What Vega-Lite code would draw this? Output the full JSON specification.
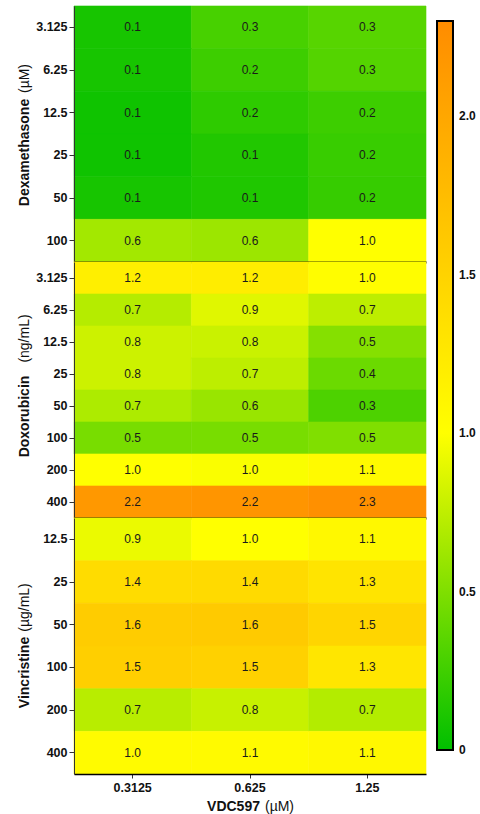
{
  "$schema": "https://vega.github.io/schema/vega-lite/v6.json",
  "padding": {"left": 16, "top": 5, "right": 5, "bottom": 2},
  "background": "white",
  "data": {
    "values": [
      {"drug": "Dexamethasone", "dose": "3.125", "vdc": "0.3125", "value": 0.09},
      {"drug": "Dexamethasone", "dose": "3.125", "vdc": "0.625", "value": 0.28},
      {"drug": "Dexamethasone", "dose": "3.125", "vdc": "1.25", "value": 0.34},
      {"drug": "Dexamethasone", "dose": "6.25", "vdc": "0.3125", "value": 0.09},
      {"drug": "Dexamethasone", "dose": "6.25", "vdc": "0.625", "value": 0.24},
      {"drug": "Dexamethasone", "dose": "6.25", "vdc": "1.25", "value": 0.33},
      {"drug": "Dexamethasone", "dose": "12.5", "vdc": "0.3125", "value": 0.06},
      {"drug": "Dexamethasone", "dose": "12.5", "vdc": "0.625", "value": 0.18},
      {"drug": "Dexamethasone", "dose": "12.5", "vdc": "1.25", "value": 0.24},
      {"drug": "Dexamethasone", "dose": "25", "vdc": "0.3125", "value": 0.06},
      {"drug": "Dexamethasone", "dose": "25", "vdc": "0.625", "value": 0.13},
      {"drug": "Dexamethasone", "dose": "25", "vdc": "1.25", "value": 0.22},
      {"drug": "Dexamethasone", "dose": "50", "vdc": "0.3125", "value": 0.09},
      {"drug": "Dexamethasone", "dose": "50", "vdc": "0.625", "value": 0.12},
      {"drug": "Dexamethasone", "dose": "50", "vdc": "1.25", "value": 0.21},
      {"drug": "Dexamethasone", "dose": "100", "vdc": "0.3125", "value": 0.64},
      {"drug": "Dexamethasone", "dose": "100", "vdc": "0.625", "value": 0.61},
      {"drug": "Dexamethasone", "dose": "100", "vdc": "1.25", "value": 1.0},
      {"drug": "Doxorubicin", "dose": "3.125", "vdc": "0.3125", "value": 1.18},
      {"drug": "Doxorubicin", "dose": "3.125", "vdc": "0.625", "value": 1.2},
      {"drug": "Doxorubicin", "dose": "3.125", "vdc": "1.25", "value": 1.02},
      {"drug": "Doxorubicin", "dose": "6.25", "vdc": "0.3125", "value": 0.71},
      {"drug": "Doxorubicin", "dose": "6.25", "vdc": "0.625", "value": 0.88},
      {"drug": "Doxorubicin", "dose": "6.25", "vdc": "1.25", "value": 0.74},
      {"drug": "Doxorubicin", "dose": "12.5", "vdc": "0.3125", "value": 0.8},
      {"drug": "Doxorubicin", "dose": "12.5", "vdc": "0.625", "value": 0.79},
      {"drug": "Doxorubicin", "dose": "12.5", "vdc": "1.25", "value": 0.52},
      {"drug": "Doxorubicin", "dose": "25", "vdc": "0.3125", "value": 0.8},
      {"drug": "Doxorubicin", "dose": "25", "vdc": "0.625", "value": 0.74},
      {"drug": "Doxorubicin", "dose": "25", "vdc": "1.25", "value": 0.42},
      {"drug": "Doxorubicin", "dose": "50", "vdc": "0.3125", "value": 0.68},
      {"drug": "Doxorubicin", "dose": "50", "vdc": "0.625", "value": 0.6},
      {"drug": "Doxorubicin", "dose": "50", "vdc": "1.25", "value": 0.3},
      {"drug": "Doxorubicin", "dose": "100", "vdc": "0.3125", "value": 0.47},
      {"drug": "Doxorubicin", "dose": "100", "vdc": "0.625", "value": 0.47},
      {"drug": "Doxorubicin", "dose": "100", "vdc": "1.25", "value": 0.5},
      {"drug": "Doxorubicin", "dose": "200", "vdc": "0.3125", "value": 1.0},
      {"drug": "Doxorubicin", "dose": "200", "vdc": "0.625", "value": 0.98},
      {"drug": "Doxorubicin", "dose": "200", "vdc": "1.25", "value": 1.06},
      {"drug": "Doxorubicin", "dose": "400", "vdc": "0.3125", "value": 2.17},
      {"drug": "Doxorubicin", "dose": "400", "vdc": "0.625", "value": 2.2},
      {"drug": "Doxorubicin", "dose": "400", "vdc": "1.25", "value": 2.26},
      {"drug": "Vincristine", "dose": "12.5", "vdc": "0.3125", "value": 0.92},
      {"drug": "Vincristine", "dose": "12.5", "vdc": "0.625", "value": 1.0},
      {"drug": "Vincristine", "dose": "12.5", "vdc": "1.25", "value": 1.08},
      {"drug": "Vincristine", "dose": "25", "vdc": "0.3125", "value": 1.4},
      {"drug": "Vincristine", "dose": "25", "vdc": "0.625", "value": 1.42},
      {"drug": "Vincristine", "dose": "25", "vdc": "1.25", "value": 1.3},
      {"drug": "Vincristine", "dose": "50", "vdc": "0.3125", "value": 1.58},
      {"drug": "Vincristine", "dose": "50", "vdc": "0.625", "value": 1.6},
      {"drug": "Vincristine", "dose": "50", "vdc": "1.25", "value": 1.48},
      {"drug": "Vincristine", "dose": "100", "vdc": "0.3125", "value": 1.54},
      {"drug": "Vincristine", "dose": "100", "vdc": "0.625", "value": 1.52},
      {"drug": "Vincristine", "dose": "100", "vdc": "1.25", "value": 1.28},
      {"drug": "Vincristine", "dose": "200", "vdc": "0.3125", "value": 0.72},
      {"drug": "Vincristine", "dose": "200", "vdc": "0.625", "value": 0.78},
      {"drug": "Vincristine", "dose": "200", "vdc": "1.25", "value": 0.7},
      {"drug": "Vincristine", "dose": "400", "vdc": "0.3125", "value": 1.04},
      {"drug": "Vincristine", "dose": "400", "vdc": "0.625", "value": 1.06},
      {"drug": "Vincristine", "dose": "400", "vdc": "1.25", "value": 1.08}
    ]
  },
  "config": {
    "view": {"stroke": null},
    "font": "Liberation Sans",
    "axis": {
      "grid": false,
      "labelFont": "Liberation Sans",
      "labelFontWeight": "bold",
      "labelFontSize": 12.5,
      "labelColor": "#111",
      "tickColor": "#333",
      "tickSize": 5,
      "labelPadding": 2,
      "domainColor": "#333",
      "titleFont": "Liberation Sans",
      "titleFontSize": 14,
      "titleColor": "#111"
    }
  },
  "spacing": 0,
  "bounds": "flush",
  "resolve": {"scale": {"color": "shared"}, "legend": {"color": "shared"}},
  "vconcat": [
    {
      "width": 352,
      "height": 256,
      "transform": [{"filter": "datum.drug === 'Dexamethasone'"}],
      "layer": [
        {
          "mark": {"type": "rect", "strokeWidth": 0.6, "stroke": {"expr": "scale('color', datum.value)"}},
          "encoding": {
            "x": {"field": "vdc", "type": "nominal", "sort": ["0.3125", "0.625", "1.25"], "axis": {"labels": false, "ticks": false, "title": null, "domainColor": "black", "domainWidth": 2}},
            "y": {"field": "dose", "type": "nominal", "sort": ["3.125", "6.25", "12.5", "25", "50", "100"], "axis": {"title": "Dexamethasone", "titleFontWeight": "bold", "titleX": -46, "titleY": 146, "titleAlign": "center", "titleBaseline": "alphabetic"}},
            "color": {
              "field": "value", "type": "quantitative",
              "scale": {"type": "linear", "domain": [0, 1, 2.3], "range": ["#00bf00", "#ffff00", "#ff8c00"], "interpolate": "rgb"},
              "legend": {"title": null, "orient": "right", "offset": -5, "padding": 15, "direction": "vertical", "gradientLength": 729, "gradientThickness": 16, "gradientStrokeColor": "black", "gradientStrokeWidth": 2, "values": [0, 0.5, 1, 1.5, 2], "labelExpr": "datum.value === 0 ? '0' : format(datum.value, '.1f')", "labelFont": "Liberation Sans", "labelFontWeight": "bold", "labelFontSize": 12, "labelColor": "#111", "labelOffset": 6, "labelOverlap": false, "labelBaseline": "middle", "encode": {"labels": {"update": {"baseline": {"value": "middle"}}}}}
            }
          }
        },
        {
          "mark": {"type": "text", "font": "Liberation Sans", "fontSize": 12, "color": "#1a1a1a"},
          "encoding": {
            "x": {"field": "vdc", "type": "nominal", "sort": ["0.3125", "0.625", "1.25"]},
            "y": {"field": "dose", "type": "nominal", "sort": ["3.125", "6.25", "12.5", "25", "50", "100"], "axis": {"orient": "left", "labels": false, "ticks": false, "domain": false, "title": "(µM)", "titleFontWeight": "normal", "titleX": -46, "titleY": 72, "titleAlign": "center", "titleBaseline": "alphabetic"}},
            "text": {"field": "value", "type": "quantitative", "format": ".1f"}
          }
        }
      ],
      "resolve": {"axis": {"y": "independent"}}
    },
    {
      "width": 352,
      "height": 256,
      "transform": [{"filter": "datum.drug === 'Doxorubicin'"}],
      "layer": [
        {
          "mark": {"type": "rect", "strokeWidth": 0.6, "stroke": {"expr": "scale('color', datum.value)"}},
          "encoding": {
            "x": {"field": "vdc", "type": "nominal", "sort": ["0.3125", "0.625", "1.25"], "axis": {"labels": false, "ticks": false, "title": null, "domainColor": "black", "domainWidth": 2}},
            "y": {"field": "dose", "type": "nominal", "sort": ["3.125", "6.25", "12.5", "25", "50", "100", "200", "400"], "axis": {"title": "Doxorubicin", "titleFontWeight": "bold", "titleX": -46, "titleY": 154, "titleAlign": "center", "titleBaseline": "alphabetic"}},
            "color": {
              "field": "value", "type": "quantitative",
              "scale": {"type": "linear", "domain": [0, 1, 2.3], "range": ["#00bf00", "#ffff00", "#ff8c00"], "interpolate": "rgb"},
              "legend": {"title": null, "orient": "right", "offset": -5, "padding": 15, "direction": "vertical", "gradientLength": 729, "gradientThickness": 16, "gradientStrokeColor": "black", "gradientStrokeWidth": 2, "values": [0, 0.5, 1, 1.5, 2], "labelExpr": "datum.value === 0 ? '0' : format(datum.value, '.1f')", "labelFont": "Liberation Sans", "labelFontWeight": "bold", "labelFontSize": 12, "labelColor": "#111", "labelOffset": 6, "labelOverlap": false, "labelBaseline": "middle", "encode": {"labels": {"update": {"baseline": {"value": "middle"}}}}}
            }
          }
        },
        {
          "mark": {"type": "text", "font": "Liberation Sans", "fontSize": 12, "color": "#1a1a1a"},
          "encoding": {
            "x": {"field": "vdc", "type": "nominal", "sort": ["0.3125", "0.625", "1.25"]},
            "y": {"field": "dose", "type": "nominal", "sort": ["3.125", "6.25", "12.5", "25", "50", "100", "200", "400"], "axis": {"orient": "left", "labels": false, "ticks": false, "domain": false, "title": "(ng/mL)", "titleFontWeight": "normal", "titleX": -46, "titleY": 76, "titleAlign": "center", "titleBaseline": "alphabetic"}},
            "text": {"field": "value", "type": "quantitative", "format": ".1f"}
          }
        }
      ],
      "resolve": {"axis": {"y": "independent"}}
    },
    {
      "width": 352,
      "height": 256,
      "transform": [{"filter": "datum.drug === 'Vincristine'"}],
      "layer": [
        {
          "mark": {"type": "rect", "strokeWidth": 0.6, "stroke": {"expr": "scale('color', datum.value)"}},
          "encoding": {
            "x": {"field": "vdc", "type": "nominal", "sort": ["0.3125", "0.625", "1.25"], "axis": {"labelAngle": 0, "tickSize": 4, "labelPadding": 3, "domainColor": "black", "domainWidth": 1.5, "title": "VDC597", "titleFontWeight": "bold", "titleX": 159, "titleY": 36, "titleAlign": "center", "titleBaseline": "alphabetic"}},
            "y": {"field": "dose", "type": "nominal", "sort": ["12.5", "25", "50", "100", "200", "400"], "axis": {"title": "Vincristine", "titleFontWeight": "bold", "titleX": -46, "titleY": 154, "titleAlign": "center", "titleBaseline": "alphabetic"}},
            "color": {
              "field": "value", "type": "quantitative",
              "scale": {"type": "linear", "domain": [0, 1, 2.3], "range": ["#00bf00", "#ffff00", "#ff8c00"], "interpolate": "rgb"},
              "legend": {"title": null, "orient": "right", "offset": -5, "padding": 15, "direction": "vertical", "gradientLength": 729, "gradientThickness": 16, "gradientStrokeColor": "black", "gradientStrokeWidth": 2, "values": [0, 0.5, 1, 1.5, 2], "labelExpr": "datum.value === 0 ? '0' : format(datum.value, '.1f')", "labelFont": "Liberation Sans", "labelFontWeight": "bold", "labelFontSize": 12, "labelColor": "#111", "labelOffset": 6, "labelOverlap": false, "labelBaseline": "middle", "encode": {"labels": {"update": {"baseline": {"value": "middle"}}}}}
            }
          }
        },
        {
          "mark": {"type": "text", "font": "Liberation Sans", "fontSize": 12, "color": "#1a1a1a"},
          "encoding": {
            "x": {"field": "vdc", "type": "nominal", "sort": ["0.3125", "0.625", "1.25"], "axis": {"orient": "bottom", "labels": false, "ticks": false, "domain": false, "title": "(µM)", "titleFontWeight": "normal", "titleX": 205, "titleY": 36, "titleAlign": "center", "titleBaseline": "alphabetic"}},
            "y": {"field": "dose", "type": "nominal", "sort": ["12.5", "25", "50", "100", "200", "400"], "axis": {"orient": "left", "labels": false, "ticks": false, "domain": false, "title": "(µg/mL)", "titleFontWeight": "normal", "titleX": -46, "titleY": 89, "titleAlign": "center", "titleBaseline": "alphabetic"}},
            "text": {"field": "value", "type": "quantitative", "format": ".1f"}
          }
        }
      ],
      "resolve": {"axis": {"x": "independent", "y": "independent"}}
    }
  ]
}
